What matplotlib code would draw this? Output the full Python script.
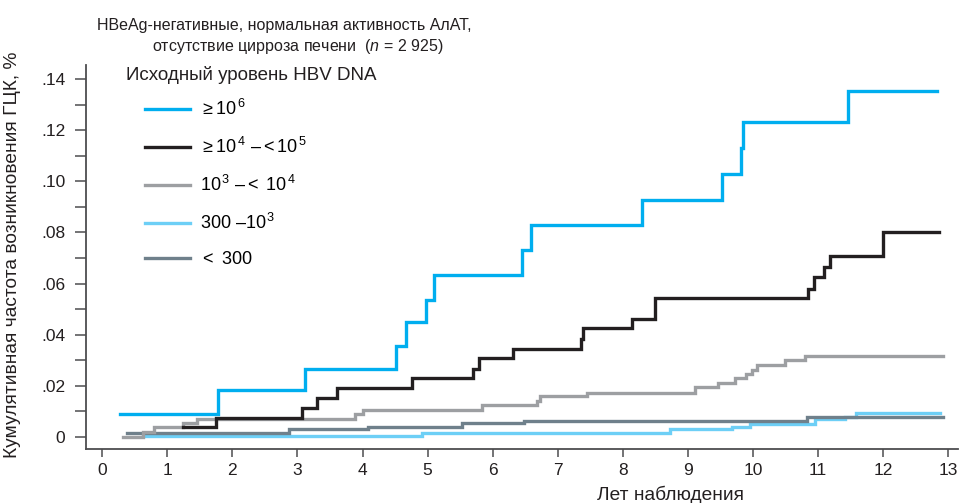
import matplotlib.pyplot as plt
from matplotlib.lines import Line2D

plt.rcParams['font.family'] = ['Liberation Sans', 'DejaVu Sans']
plt.rcParams['mathtext.fontset'] = 'custom'
plt.rcParams['mathtext.rm'] = 'Liberation Sans'
plt.rcParams['mathtext.it'] = 'Liberation Sans:italic'

# cumulative HCC incidence by baseline HBV DNA level (step functions)
t_hi = [0.28, 1.78, 3.12, 4.52, 4.67, 4.98, 5.10, 6.45, 6.59, 8.29, 9.52, 9.82, 9.85, 11.46, 12.83]
v_hi = [0.009, 0.0184, 0.0266, 0.0356, 0.045, 0.0536, 0.0634, 0.0731, 0.0829, 0.0927,
        0.1029, 0.113, 0.1232, 0.1353, 0.1353]

t_4_5 = [1.24, 1.75, 3.07, 3.30, 3.61, 4.76, 5.70, 5.79, 6.31, 7.36, 7.39, 8.14, 8.50,
         10.85, 10.93, 11.09, 11.18, 12.00, 12.86]
v_4_5 = [0.004, 0.0076, 0.0113, 0.0152, 0.019, 0.023, 0.0266, 0.031, 0.0344, 0.0383, 0.0426,
         0.046, 0.0544, 0.058, 0.0626, 0.0665, 0.0708, 0.080, 0.080]

t_3_4 = [0.32, 0.63, 0.80, 1.24, 1.46, 3.89, 4.00, 5.84, 6.68, 6.73, 7.45, 9.11, 9.46, 9.72,
         9.89, 9.98, 10.06, 10.49, 10.80, 12.92]
v_3_4 = [0.0, 0.002, 0.004, 0.0055, 0.007, 0.009, 0.0106, 0.0125, 0.014, 0.016, 0.0172, 0.0196,
         0.021, 0.023, 0.0246, 0.026, 0.028, 0.030, 0.0317, 0.0317]

t_300_3 = [0.63, 4.92, 8.72, 9.68, 9.96, 10.95, 11.41, 11.58, 12.87]
v_300_3 = [0.0005, 0.0015, 0.003, 0.004, 0.005, 0.007, 0.0078, 0.0094, 0.0094]

t_lo = [0.38, 2.87, 4.09, 5.53, 6.48, 10.83, 12.92]
v_lo = [0.0015, 0.003, 0.004, 0.0055, 0.0063, 0.0078, 0.0078]

labels = [r'$\mathregular{\geq 10^{\,6}}$',
          r'$\mathregular{\geq 10^{\,4}\ \endash <10^{\,5}}$',
          r'$\mathregular{10^{\,3}\ \endash <\ 10^{\,4}}$',
          r'$\mathregular{300\ \endash 10^{\,3}}$',
          r'$\mathregular{<\ 300}$']
colors = ['#00aeef', '#231f20', '#9d9fa2', '#6dcff6', '#6f808b']

fig = plt.figure(figsize=(9.62, 5.03), dpi=100)
ax = fig.add_axes([0.0894, 0.1074, 0.9064, 0.7634])

lw = 2.4
series = [(t_hi, v_hi), (t_4_5, v_4_5), (t_3_4, v_3_4), (t_300_3, v_300_3), (t_lo, v_lo)]
zorders = [6, 5, 4, 2, 3]
for (t, v), c, z in zip(series, colors, zorders):
    ax.step(t, v, where='post', color=c, lw=lw, zorder=z, solid_joinstyle='miter')

ax.set_xlim(-0.25, 13.15)
ax.set_ylim(-0.0047, 0.1455)
ax.set_xticks(range(14))
ax.set_yticks([0, 0.02, 0.04, 0.06, 0.08, 0.10, 0.12, 0.14])
ax.set_yticklabels(['0', '.02', '.04', '.06', '.08', '.10', '.12', '.14'])
ax.set_yticks([0.01, 0.03, 0.05, 0.07, 0.09, 0.11, 0.13], minor=True)

for s in ['top', 'right']:
    ax.spines[s].set_visible(False)
for s in ['left', 'bottom']:
    ax.spines[s].set_color('#4d4d4f')
    ax.spines[s].set_linewidth(1.3)
ax.tick_params(axis='both', which='both', colors='#4d4d4f', labelcolor='#231f20',
               labelsize=12.5, width=1.1)
ax.tick_params(axis='y', which='both', length=8, pad=7)
ax.tick_params(axis='x', length=6, pad=4)

handles = [Line2D([], [], color=c, lw=lw) for c in colors]
leg = ax.legend(handles, labels, loc='upper left', bbox_to_anchor=(0.068, 0.912),
                frameon=False, fontsize=13, handlelength=2.45, handletextpad=0.6,
                labelspacing=1.0, borderaxespad=0, borderpad=0)
ax.text(0.046, 0.974, 'Исходный уровень HBV DNA', transform=ax.transAxes,
        fontsize=13.5, va='center', ha='left', color='#231f20')

fig.text(0.295, 0.950, 'HBeAg-негативные, нормальная активность АлАТ,',
         ha='center', va='center', fontsize=11.5, color='#231f20')
fig.text(0.310, 0.907, r'отсутствие цирроза печени  ($\mathit{n}$ = 2 925)',
         ha='center', va='center', fontsize=11.5, color='#231f20')

fig.text(0.013, 0.493, 'Кумулятивная частота возникновения ГЦК, %', rotation=90,
         ha='center', va='center', fontsize=13.8, color='#231f20')
fig.text(0.773, 0.016, 'Лет наблюдения', ha='right', va='center', fontsize=13.8,
         color='#231f20')

fig.savefig('out.png', dpi=100)
